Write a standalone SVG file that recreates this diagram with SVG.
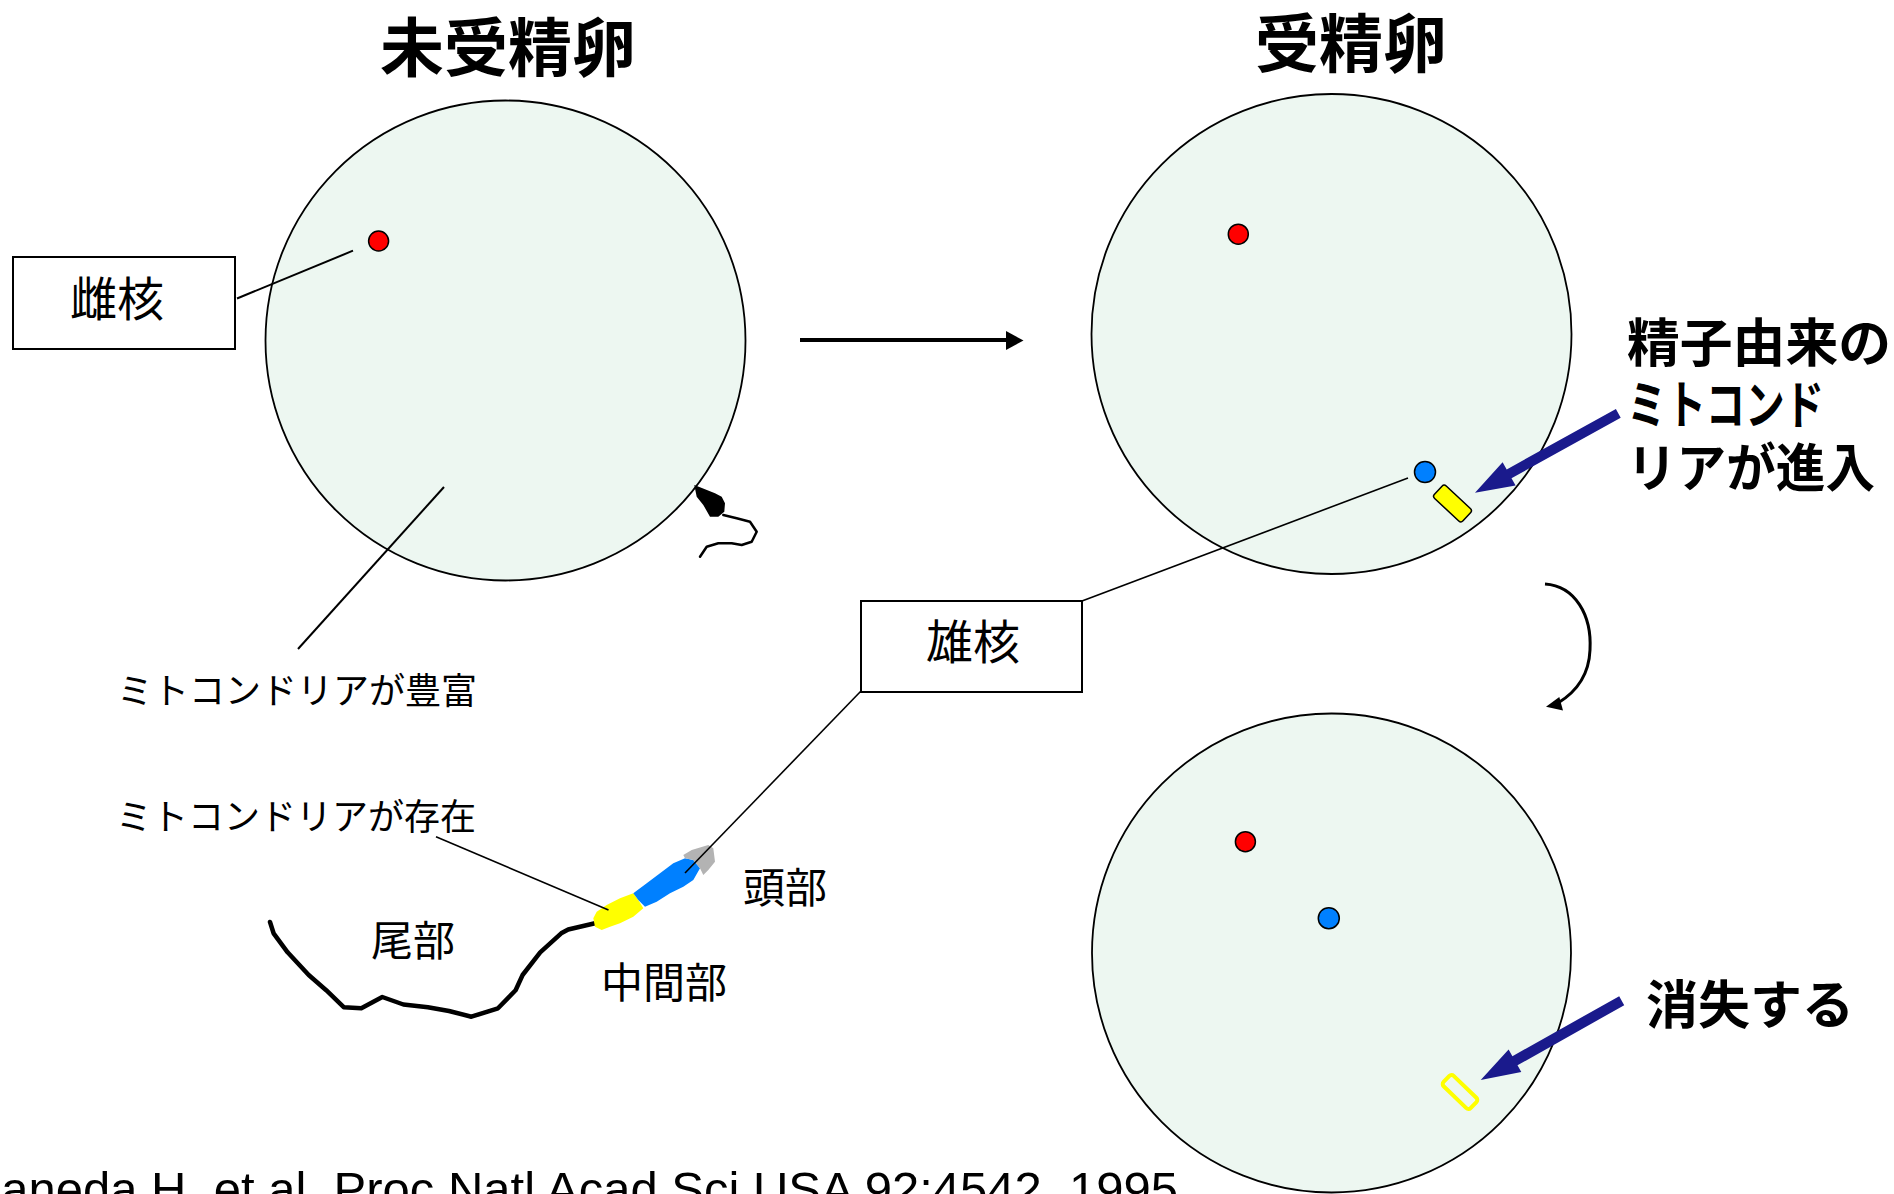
<svg xmlns="http://www.w3.org/2000/svg" width="1894" height="1194" viewBox="0 0 1894 1194">
  <style>
    .jp { font-family: "Noto Sans CJK JP", "Noto Sans CJK SC", sans-serif; fill: #000; }
    .title { font-size: 64px; font-weight: bold; text-anchor: middle; }
    .note { font-size: 52px; font-weight: bold; }
    .lbl { font-size: 36px; text-anchor: middle; }
    .part { font-size: 42px; text-anchor: middle; }
    .box { fill: #fff; stroke: #000; stroke-width: 2; }
    .boxtxt { font-size: 47px; text-anchor: middle; }
    .egg { fill: #EDF7F1; stroke: #000; stroke-width: 1.8; }
    .dot { stroke: #000; stroke-width: 1.5; }
    .lead { stroke: #000; fill: none; }
    .navy { fill: #1A1A8C; }
    .cite { font-family: "Liberation Sans", Arial, sans-serif; font-size: 49px; fill: #000; text-anchor: end; }
  </style>

  <rect x="0" y="0" width="1894" height="1194" fill="#fff"/>

  <!-- headings -->
  <text class="jp title" x="508" y="71">未受精卵</text>
  <text class="jp title" x="1351" y="67">受精卵</text>

  <!-- unfertilised egg -->
  <g id="egg-unfertilised">
    <circle class="egg" cx="505.5" cy="340.5" r="240"/>
    <circle class="dot" cx="378.6" cy="241" r="10" fill="#FF0000"/>
  </g>

  <!-- sperm touching the unfertilised egg -->
  <g id="sperm-small">
    <polygon points="694.3,485 696.7,496.7 703.3,505 710,516.7 718.3,516.7 724.3,511.7 725,503.3 721.7,496.7 715,493.3 700,487.3" fill="#000"/>
    <polyline class="lead" stroke-width="2.5" stroke-linejoin="round" stroke-linecap="round" points="723.3,515 736.7,518.3 750,521.7 756.7,531.7 751.7,541.7 741.7,545 731.7,543.3 718.3,543.3 706.7,546.7 700,556.7"/>
  </g>

  <!-- fertilised egg -->
  <g id="egg-fertilised">
    <circle class="egg" cx="1331.5" cy="334" r="240"/>
    <circle class="dot" cx="1238.3" cy="234.2" r="10" fill="#FF0000"/>
    <circle class="dot" cx="1425" cy="472" r="10.5" fill="#0080FF"/>
    <rect x="-19.5" y="-8.5" width="39" height="17" rx="3" fill="#FFFF00" stroke="#000" stroke-width="1.5" transform="translate(1452.5 503.5) rotate(43)"/>
  </g>

  <!-- later stage egg -->
  <g id="egg-later">
    <circle class="egg" cx="1331.5" cy="953" r="239.5"/>
    <circle class="dot" cx="1245.4" cy="841.7" r="10" fill="#FF0000"/>
    <circle class="dot" cx="1328.8" cy="918.2" r="10.5" fill="#0080FF"/>
    <rect x="-18.8" y="-7.2" width="37.6" height="14.4" rx="3" fill="none" stroke="#FFFF00" stroke-width="4" transform="translate(1460 1092) rotate(44)"/>
  </g>

  <!-- sperm drawing -->
  <g id="sperm">
    <polyline class="lead" stroke-width="4.5" stroke-linejoin="round" stroke-linecap="round" points="270,922 273.6,933.3 287.6,952.3 308.7,975 326.2,990.2 343.7,1007.2 361.3,1008.3 382.3,997 403.4,1004.5 427.9,1007.2 449,1011 471.4,1016.7 498,1008.3 515.6,990.2 522.6,975 540.2,952.3 561.2,933.3 568.2,929.5 580,926.7 596,923"/>
    <polygon points="593.3,918.3 596.7,911.7 606.7,905 620,898.3 633.3,893.3 638.3,900 643.3,908.3 633.3,916.7 620,923.3 610,926.7 601.7,930 595,926.7" fill="#FFFF00"/>
    <polygon points="633.3,893.3 646.7,883.3 660,873.3 673.3,863.3 685,858.3 693.3,860 700,868.3 693.3,880 683.3,886.7 670,893.3 656.7,901.7 645,906.7 638.3,900" fill="#0080FF"/>
    <polygon points="683.3,855 691.7,850 708.3,845 713.3,848.3 715,861.7 708.3,870 703.3,875 700,868.3 693.3,860 685,858.3" fill="#B3B3B3"/>
  </g>

  <!-- label boxes -->
  <g id="box-female">
    <rect class="box" x="13" y="257" width="222" height="92"/>
    <text class="jp boxtxt" x="117" y="316">雌核</text>
  </g>
  <g id="box-male">
    <rect class="box" x="861" y="601" width="221" height="91"/>
    <text class="jp boxtxt" x="973" y="659">雄核</text>
  </g>

  <!-- free labels -->
  <g id="label-rich"><text class="jp lbl" x="297" y="704">ミトコンドリアが豊富</text></g>
  <g id="label-present"><text class="jp lbl" x="296" y="830">ミトコンドリアが存在</text></g>
  <g id="label-head"><text class="jp part" x="785" y="903">頭部</text></g>
  <g id="label-tail"><text class="jp part" x="413" y="956">尾部</text></g>
  <g id="label-mid"><text class="jp part" x="664" y="998">中間部</text></g>
  <g id="label-enter">
    <text class="jp note" x="1627" y="362" textLength="264" lengthAdjust="spacingAndGlyphs">精子由来の</text>
    <text class="jp note" x="1627" y="424" textLength="197" lengthAdjust="spacingAndGlyphs">ミトコンド</text>
    <text class="jp note" x="1627" y="487" textLength="248" lengthAdjust="spacingAndGlyphs">リアが進入</text>
  </g>
  <g id="label-vanish"><text class="jp note" x="1750" y="1024" text-anchor="middle">消失する</text></g>

  <!-- connectors -->
  <g id="connectors">
    <line class="lead" stroke-width="2" x1="237" y1="298.5" x2="353" y2="250.7"/>
    <line class="lead" stroke-width="2" x1="444" y1="487" x2="298" y2="649"/>
    <line class="lead" stroke-width="1.6" x1="436" y1="836.7" x2="608.5" y2="910"/>
    <line class="lead" stroke-width="1.6" x1="861" y1="691" x2="685" y2="873"/>
    <line class="lead" stroke-width="1.6" x1="1082" y1="601" x2="1408" y2="478"/>

    <!-- fertilisation arrow -->
    <line class="lead" stroke-width="4" x1="800" y1="340" x2="1008" y2="340"/>
    <polygon points="1006,331 1023.5,340.5 1006,350" fill="#000"/>

    <!-- curved step arrow -->
    <path class="lead" stroke-width="3" d="M1545,584 C1575,586 1592,615 1590,650 C1589,675 1576,692 1558,703"/>
    <polygon points="1546,706.7 1559.3,697 1563,710.5" fill="#000"/>

    <!-- pointer arrows -->
    <polygon class="navy" points="1475,492.7 1515.6,485.4 1511.5,478.2 1620.7,417.7 1615.9,408.9 1506.7,469.4 1502.6,462.2"/>
    <polygon class="navy" points="1480.7,1080 1521.3,1072 1517.5,1065.3 1624.2,1005.2 1619.2,996.2 1512.4,1056.2 1508.6,1049.5"/>
  </g>

  <!-- reference line -->
  <text class="cite" x="1178" y="1206">Kaneda H, et al. Proc Natl Acad Sci USA 92:4542, 1995</text>
</svg>
